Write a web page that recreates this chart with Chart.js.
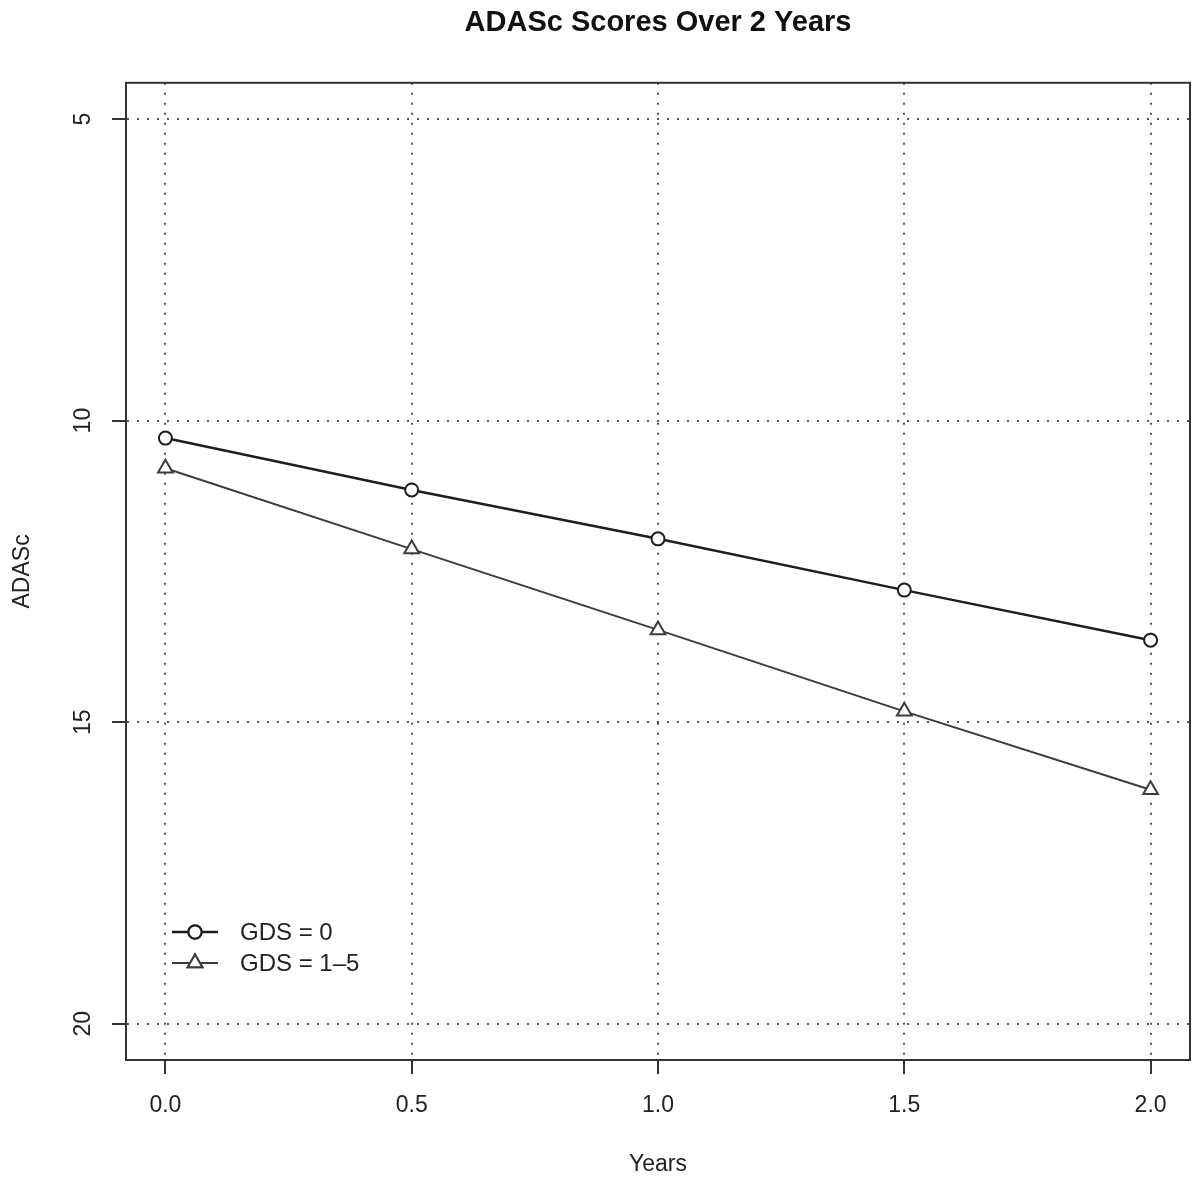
<!DOCTYPE html>
<html>
<head>
<meta charset="utf-8">
<script src="https://cdn.jsdelivr.net/npm/chart.js@4"></script>
<style>
  html, body { margin: 0; padding: 0; background: #fff; }
  #wrap { width: 1196px; height: 1182px; position: relative; }
</style>
</head>
<body>
<div id="wrap"><canvas id="chart"></canvas></div>
<script>
const years = [0, 0.5, 1, 1.5, 2];
const gds0 = [10.29, 11.15, 11.96, 12.81, 13.64];
const gds15 = [10.79, 12.13, 13.47, 14.82, 16.12];
const xTicks = [0, 0.5, 1, 1.5, 2];
const yTicks = [5, 10, 15, 20];
const seriesNames = ['GDS = 0', 'GDS = 1\u20135'];

const FONT = "'Liberation Sans', Arial, Helvetica, sans-serif";

const toPoints = (ys) => years.map((x, i) => ({ x: x, y: ys[i] }));

// R-style full box around the plot area + in-plot legend
const boxAndLegend = {
    id: 'boxAndLegend',
    afterDraw(chart) {
        const { ctx, chartArea: a } = chart;
        ctx.save();
        ctx.strokeStyle = '#333';
        ctx.lineWidth = 2;
        ctx.strokeRect(a.left, a.top, a.right - a.left, a.bottom - a.top);

        let y = a.bottom - 128;
        chart.data.datasets.forEach((ds) => {
            const x0 = a.left + 46;
            ctx.strokeStyle = ds.borderColor;
            ctx.lineWidth = ds.borderWidth;
            ctx.beginPath();
            ctx.moveTo(x0, y);
            ctx.lineTo(x0 + 46, y);
            ctx.stroke();
            Chart.helpers.drawPoint(ctx, {
                pointStyle: ds.pointStyle,
                radius: ds.pointRadius,
                borderWidth: ds.pointBorderWidth,
                rotation: 0
            }, x0 + 23, y);
            ctx.fillStyle = ds.pointBackgroundColor;
            ctx.strokeStyle = ds.pointBorderColor;
            ctx.lineWidth = ds.pointBorderWidth;
            ctx.fill();
            ctx.stroke();
            ctx.fillStyle = '#222';
            ctx.font = '24px ' + FONT;
            ctx.textBaseline = 'middle';
            ctx.textAlign = 'left';
            ctx.fillText(ds.label, x0 + 68, y + 1);
            y += 31;
        });
        ctx.restore();
    }
};

new Chart(document.getElementById('chart'), {
    type: 'line',
    data: {
        datasets: [{
            label: seriesNames[0],
            data: toPoints(gds0),
            borderColor: '#1e1e1e',
            borderWidth: 2.5,
            pointStyle: 'circle',
            pointRadius: 6.5,
            pointBorderWidth: 2,
            pointBackgroundColor: '#fff',
            pointBorderColor: '#1e1e1e',
            fill: false,
            tension: 0
        }, {
            label: seriesNames[1],
            data: toPoints(gds15),
            borderColor: '#3c3c3c',
            borderWidth: 2,
            pointStyle: 'triangle',
            pointRadius: 8.5,
            pointBorderWidth: 2,
            pointBackgroundColor: '#fff',
            pointBorderColor: '#3c3c3c',
            fill: false,
            tension: 0
        }]
    },
    options: {
        responsive: true,
        maintainAspectRatio: false,
        animation: false,
        layout: { autoPadding: false, padding: { left: 0, right: 6, top: 0, bottom: 0 } },
        plugins: {
            legend: { display: false },
            tooltip: { enabled: false },
            title: {
                display: true,
                fullSize: false,
                text: 'ADASc Scores Over 2 Years',
                color: '#111',
                font: { family: FONT, size: 29, weight: 'bold' },
                padding: { top: 6, bottom: 42 }
            }
        },
        scales: {
            x: {
                type: 'linear',
                min: -0.08,
                max: 2.08,
                afterBuildTicks: (s) => { s.ticks = xTicks.map(v => ({ value: v })); },
                afterFit: (s) => { s.height = 122; s.paddingLeft = 0; s.paddingRight = 0; },
                ticks: {
                    autoSkip: false,
                    padding: 18,
                    color: '#222',
                    font: { family: FONT, size: 23 },
                    callback: (v) => Number(v).toFixed(1)
                },
                grid: {
                    color: '#555',
                    lineWidth: 2,
                    tickLength: 14,
                    tickColor: '#333',
                    tickWidth: 2,
                    tickBorderDash: []
                },
                border: { display: true, color: '#333', width: 2, dash: [2, 8] },
                title: {
                    display: true,
                    text: 'Years',
                    color: '#222',
                    font: { family: FONT, size: 23 },
                    padding: { top: 0, bottom: 4 }
                }
            },
            y: {
                type: 'linear',
                reverse: true,
                min: 4.4,
                max: 20.6,
                afterBuildTicks: (s) => { s.ticks = yTicks.map(v => ({ value: v })); },
                afterFit: (s) => { s.width = 126; s.paddingTop = 0; s.paddingBottom = 0; },
                ticks: {
                    autoSkip: false,
                    minRotation: 90,
                    maxRotation: 90,
                    crossAlign: 'center',
                    padding: 16,
                    color: '#222',
                    font: { family: FONT, size: 23 },
                    callback: (v) => String(v)
                },
                grid: {
                    color: '#555',
                    lineWidth: 2,
                    tickLength: 14,
                    tickColor: '#333',
                    tickWidth: 2,
                    tickBorderDash: []
                },
                border: { display: true, color: '#333', width: 2, dash: [2, 8] },
                title: {
                    display: true,
                    text: 'ADASc',
                    color: '#222',
                    font: { family: FONT, size: 23 },
                    padding: { top: 9, bottom: 0 }
                }
            }
        }
    },
    plugins: [boxAndLegend]
});
</script>
</body>
</html>
